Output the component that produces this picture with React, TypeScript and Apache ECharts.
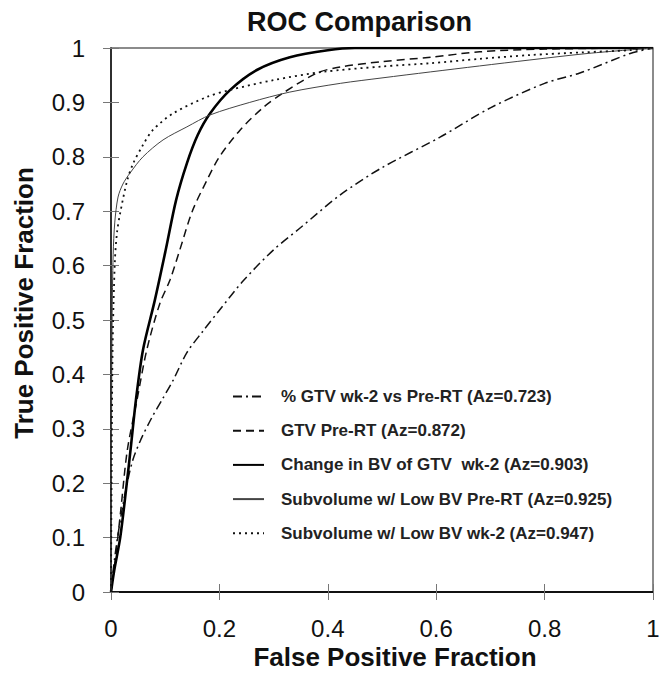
import React, { useEffect, useRef } from "react";
import * as echarts from "echarts";

const FONT = '"Liberation Sans", Arial, sans-serif';

const chartTitle = "ROC Comparison";
const xAxisTitle = "False Positive Fraction";
const yAxisTitle = "True Positive Fraction";

const seriesNames = [
  "% GTV wk-2 vs Pre-RT (Az=0.723)",
  "GTV Pre-RT (Az=0.872)",
  "Change in BV of GTV  wk-2 (Az=0.903)",
  "Subvolume w/ Low BV Pre-RT (Az=0.925)",
  "Subvolume w/ Low BV wk-2 (Az=0.947)",
];

// [false positive fraction, true positive fraction]
const pctGtvCurve = [
  [0, 0], [0.004, 0.04], [0.012, 0.1], [0.022, 0.16], [0.032, 0.21], [0.041, 0.245],
  [0.055, 0.28], [0.075, 0.32], [0.094, 0.353], [0.115, 0.39], [0.14, 0.44],
  [0.17, 0.48], [0.2, 0.518], [0.244, 0.572], [0.3, 0.629], [0.35, 0.67],
  [0.423, 0.73], [0.5, 0.78], [0.607, 0.836], [0.7, 0.89], [0.8, 0.935],
  [0.865, 0.954], [0.958, 0.99], [1, 1],
];

const gtvPreCurve = [
  [0, 0], [0.008, 0.06], [0.018, 0.15], [0.03, 0.26], [0.048, 0.353], [0.066, 0.445],
  [0.09, 0.53], [0.109, 0.574], [0.127, 0.629], [0.15, 0.7], [0.177, 0.757],
  [0.2, 0.8], [0.238, 0.849], [0.28, 0.89], [0.317, 0.917], [0.38, 0.954],
  [0.423, 0.965], [0.5, 0.975], [0.59, 0.983], [0.68, 0.993], [0.8, 0.998], [1, 1],
];

const bvChangeCurve = [
  [0, 0], [0.006, 0.04], [0.017, 0.1], [0.028, 0.19], [0.037, 0.27], [0.046, 0.353],
  [0.059, 0.445], [0.081, 0.537], [0.101, 0.629], [0.12, 0.72], [0.14, 0.788],
  [0.16, 0.84], [0.183, 0.88], [0.22, 0.923], [0.27, 0.96], [0.33, 0.983],
  [0.4, 0.996], [0.45, 1], [1, 1],
];

const subPreCurve = [
  [0, 0], [0.001, 0.3], [0.002, 0.5], [0.004, 0.62], [0.007, 0.68], [0.013, 0.726],
  [0.022, 0.75], [0.035, 0.77], [0.059, 0.8], [0.096, 0.831], [0.14, 0.855],
  [0.183, 0.877], [0.256, 0.9], [0.33, 0.919], [0.423, 0.935], [0.5, 0.945],
  [0.589, 0.956], [0.68, 0.967], [0.773, 0.978], [0.88, 0.99], [1, 1],
];

const subWk2Curve = [
  [0, 0], [0.001, 0.2], [0.003, 0.45], [0.007, 0.605], [0.011, 0.66], [0.017, 0.697],
  [0.03, 0.757], [0.041, 0.788], [0.058, 0.82], [0.077, 0.849], [0.115, 0.88],
  [0.177, 0.91], [0.22, 0.923], [0.3, 0.941], [0.39, 0.956], [0.5, 0.966],
  [0.589, 0.972], [0.68, 0.98], [0.773, 0.987], [0.87, 0.992], [0.958, 0.996], [1, 1],
];

const curves = [pctGtvCurve, gtvPreCurve, bvChangeCurve, subPreCurve, subWk2Curve];

const lineStyles: any[] = [
  { color: "#111", width: 1.5, type: [9, 4, 2, 4] },
  { color: "#111", width: 1.5, type: [8, 5] },
  { color: "#000", width: 2.6, type: "solid" },
  { color: "#444", width: 1, type: "solid" },
  { color: "#111", width: 1.8, type: [2, 4] },
];

export default function App() {
  const ref = useRef<HTMLDivElement>(null);

  useEffect(() => {
    if (!ref.current) return;
    const chart = echarts.init(ref.current, null, { renderer: "svg" });

    const baseX = { type: "value", min: 0, max: 1, interval: 0.2, splitLine: { show: false } };
    const baseY = { type: "value", min: 0, max: 1, interval: 0.1, splitLine: { show: false } };

    chart.setOption({
      animation: false,
      backgroundColor: "#fff",
      title: {
        text: chartTitle,
        left: 247,
        top: 8,
        padding: 0,
        textStyle: { fontFamily: FONT, fontSize: 27, fontWeight: "bold", color: "#111" },
      },
      grid: {
        left: 111,
        right: 10,
        top: 48,
        bottom: 81,
        show: true,
        borderColor: "#666",
        borderWidth: 1.5,
        backgroundColor: "transparent",
      },
      legend: {
        orient: "vertical",
        left: 232,
        top: 388,
        padding: 0,
        itemWidth: 31,
        itemHeight: 17,
        itemGap: 17.2,
        data: seriesNames,
        itemStyle: { opacity: 0, color: "transparent", borderColor: "transparent", borderWidth: 0 },
        textStyle: {
          fontFamily: FONT,
          fontSize: 17,
          fontWeight: "bold",
          color: "#222",
          lineHeight: 17,
          padding: [0, 0, 0, 12],
        },
      },
      xAxis: [
        {
          ...baseX,
          position: "bottom",
          axisLine: { show: true, lineStyle: { color: "#111", width: 2 } },
          axisTick: { show: true, length: 8, lineStyle: { color: "#777", width: 1 } },
          axisLabel: { margin: 24, fontSize: 24, fontFamily: FONT, color: "#111" },
        },
        {
          ...baseX,
          position: "bottom",
          axisLine: { show: false },
          axisTick: { show: true, inside: true, length: 8, lineStyle: { color: "#777", width: 1 } },
          axisLabel: { show: false },
        },
      ],
      yAxis: [
        {
          ...baseY,
          position: "left",
          axisLine: { show: true, lineStyle: { color: "#111", width: 1.5 } },
          axisTick: { show: true, length: 8, lineStyle: { color: "#777", width: 1 } },
          axisLabel: { margin: 26, fontSize: 24, fontFamily: FONT, color: "#111" },
        },
        {
          ...baseY,
          position: "left",
          axisLine: { show: false },
          axisTick: { show: true, inside: true, length: 8, lineStyle: { color: "#777", width: 1 } },
          axisLabel: { show: false },
        },
      ],
      graphic: [
        {
          type: "text",
          x: 395,
          y: 657,
          style: {
            text: xAxisTitle,
            fontFamily: FONT,
            fontSize: 26,
            fontWeight: "bold",
            fill: "#111",
            align: "center",
            verticalAlign: "middle",
          },
        },
        {
          type: "text",
          x: 24,
          y: 303,
          rotation: Math.PI / 2,
          style: {
            text: yAxisTitle,
            fontFamily: FONT,
            fontSize: 26,
            fontWeight: "bold",
            fill: "#111",
            align: "center",
            verticalAlign: "middle",
          },
        },
      ],
      series: curves.map((c, i) => ({
        name: seriesNames[i],
        type: "line",
        xAxisIndex: 0,
        yAxisIndex: 0,
        data: c,
        symbol: "none",
        smooth: 0.3,
        lineStyle: lineStyles[i],
        itemStyle: { color: lineStyles[i].color },
        z: 3,
      })),
    });

    return () => chart.dispose();
  }, []);

  return (
    <div
      ref={ref}
      style={{ position: "absolute", left: 0, top: 0, width: 663, height: 673 }}
    />
  );
}
